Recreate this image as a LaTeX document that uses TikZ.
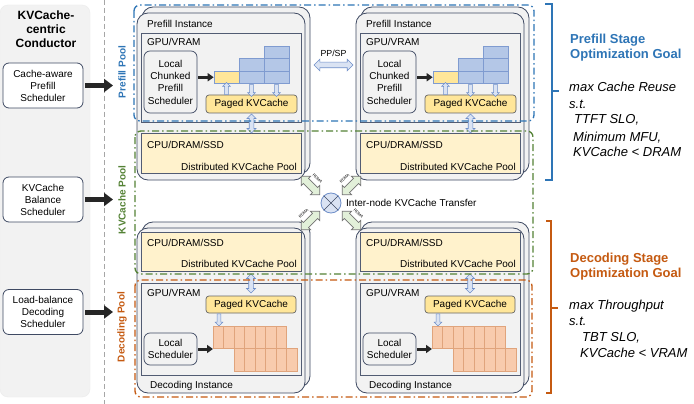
\documentclass[tikz,border=0pt]{standalone}
\usepackage{fontspec}
\setmainfont{Liberation Sans}
\usetikzlibrary{shapes.arrows,arrows.meta,calc}
\definecolor{pblue}{HTML}{2E75B6}
\definecolor{kgreen}{HTML}{548235}
\definecolor{dorange}{HTML}{C55A11}
\definecolor{navy}{HTML}{3F4A63}
\definecolor{lgray}{HTML}{F2F2F2}
\definecolor{lyellow}{HTML}{FFF2CC}
\definecolor{myellow}{HTML}{FFE699}
\definecolor{bblock}{HTML}{B4C7E7}
\definecolor{bblockd}{HTML}{7F9BD0}
\definecolor{oblock}{HTML}{F8CBAD}
\definecolor{oblockd}{HTML}{E0A47C}
\definecolor{larrow}{HTML}{DAE3F3}
\definecolor{larrowd}{HTML}{6F8FC9}
\definecolor{garrow}{HTML}{E2F0D9}
\definecolor{dark}{HTML}{262626}
\begin{document}
\begin{tikzpicture}[x=1pt,y=-1pt,
  every node/.style={inner sep=0pt},
  ftxt/.style={font=\fontsize{10}{12}\selectfont},
  inst/.style={draw=navy, fill=lgray, line width=0.8pt, rounded corners=11pt},
  memgpu/.style={draw=navy!90, fill=lgray, line width=0.7pt, minimum width=160pt},
  memcpu/.style={draw=navy!90, fill=lyellow, line width=0.7pt, minimum width=160pt},
  sched/.style={draw=navy, fill=white, line width=0.8pt, rounded corners=6pt, align=center, minimum width=80pt, minimum height=45pt, font=\fontsize{10}{12}\selectfont},
  lsched/.style={draw=navy, fill=lgray, line width=0.7pt, rounded corners=6pt, align=center, minimum width=53pt, font=\fontsize{10}{12.3}\selectfont},
  paged/.style={draw=gray!80!black, fill=myellow, line width=0.7pt, rounded corners=3pt, minimum height=18pt, font=\fontsize{10}{12}\selectfont},
  bblk/.style={draw=bblockd, fill=bblock, line width=0.6pt},
  yblk/.style={draw=bblockd, fill=myellow, line width=0.6pt},
  oblk/.style={draw=oblockd, fill=oblock, line width=0.5pt},
  sarr/.style={single arrow, draw=larrowd, fill=larrow, line width=0.5pt, inner sep=1.6pt, single arrow head extend=2pt, minimum height=12pt},
  varr/.style={double arrow, draw=larrowd, fill=larrow, line width=0.6pt, inner sep=2pt, double arrow head extend=2.2pt, minimum height=19pt},
  harr/.style={double arrow, draw=larrowd, fill=larrow, line width=0.6pt, inner sep=2.5pt, double arrow head extend=3pt, minimum height=39pt},
  rdma/.style={double arrow, draw=gray!90!black, fill=garrow, line width=0.7pt, inner sep=3.2pt, double arrow head extend=3pt, minimum height=26pt},
  rdmalbl/.style={font=\fontsize{4}{5}\selectfont},
  bigarr/.style={draw=dark, line width=5pt, -{Triangle[length=9pt,width=13pt]}},
  smarr/.style={draw=dark, line width=3pt, -{Triangle[length=6pt,width=8pt]}},
  pool/.style={line width=1.3pt, dash pattern=on 7pt off 3pt on 1.5pt off 3pt, rounded corners=6pt},
  poollbl/.style={rotate=90, font=\bfseries\fontsize{10}{12}\selectfont},
  goalhead/.style={anchor=base west, font=\bfseries\fontsize{13}{15}\selectfont},
  goaltxt/.style={anchor=base west, font=\itshape\fontsize{13}{15}\selectfont},
]
\useasboundingbox (0,0) rectangle (694,404);
\fill[white] (0,0) rectangle (694,404);

% left panel
\draw[fill=lgray, draw=gray!15, rounded corners=8pt] (0,5) rectangle (90,397);
\node[align=center, font=\bfseries\fontsize{12}{14}\selectfont] (title) at (46,29) {KVCache-\\centric\\Conductor};
\node[sched] (cs1) at (43,85.5) {Cache-aware\\Prefill\\Scheduler};
\node[sched] (cs2) at (43,199.5) {KVCache\\Balance\\Scheduler};
\node[sched] (cs3) at (43,312) {Load-balance\\Decoding\\Scheduler};
\draw[draw=gray!70, line width=0.8pt, dash pattern=on 5pt off 3pt] (104,0) -- (104,404);

% instances
\foreach \i/\dx in {1/0,2/219} {
\begin{scope}[xshift=\dx pt]
  % prefill instance
  \draw[inst] (142,7) rectangle (310,174);
  \draw[inst] (137,13) rectangle (305,180);
  \node[ftxt, anchor=base west] (pil\i) at (147,28) {Prefill Instance};
  \node[memgpu, minimum height=89pt] (pg\i) at (221,77.5) {};
  \node[ftxt, anchor=base west] (pgl\i) at (147,45.5) {GPU/VRAM};
  \node[lsched, minimum height=62pt] (pls\i) at (170.5,82) {Local\\Chunked\\Prefill\\Scheduler};
  \node[yblk, minimum width=25pt, minimum height=12.5pt] (py\i) at (226.5,77.25) {};
  \draw[bblk] (239,58.5) rectangle (264,71);
  \draw[bblk] (239,71) rectangle (264,83.5);
  \draw[bblk] (264,46) rectangle (289,58.5);
  \draw[bblk] (264,58.5) rectangle (289,71);
  \draw[bblk] (264,71) rectangle (289,83.5);
  \draw[smarr] ([xshift=1pt]pls\i.east |- py\i.west) -- (py\i.west);
  \node[paged, minimum width=91pt] (pp\i) at (251.5,104) {Paged KVCache};
  \node[sarr, rotate=90] (pa\i) at (226.5,89.5) {};
  \node[sarr, rotate=-90] (pb\i) at (251.5,89.5) {};
  \node[sarr, rotate=-90] (pc\i) at (276.5,89.5) {};
  \node[memcpu, minimum height=40pt] (pm\i) at (221,153) {};
  \node[varr, rotate=90] (pv\i) at (251.5,123.5) {};
  \node[ftxt, anchor=base west] (pcl\i) at (147,148) {CPU/DRAM/SSD};
  \node[ftxt, anchor=base east] (pdl\i) at (297,170) {Distributed KVCache Pool};
  % decoding instance
  \draw[inst] (142,222) rectangle (310,387);
  \draw[inst] (137,228) rectangle (305,393);
  \node[memcpu, minimum height=39pt] (dm\i) at (221,251.5) {};
  \node[ftxt, anchor=base west] (dcl\i) at (147,246) {CPU/DRAM/SSD};
  \node[ftxt, anchor=base east] (ddl\i) at (297,267) {Distributed KVCache Pool};
  \node[memgpu, minimum height=92pt] (dg\i) at (221,329) {};
  \node[ftxt, anchor=base west] (dgl\i) at (147,296) {GPU/VRAM};
  \node[varr, rotate=90] (dv\i) at (251,283.5) {};
  \node[paged, minimum width=90pt, minimum height=17pt] (dp\i) at (251,304.5) {Paged KVCache};
  \node[sarr, rotate=-90] (da\i) at (219,319) {};
  \foreach \k in {0,...,6} \draw[oblk] ({213+10.5*\k},326) rectangle ++(10.5,22);
  \foreach \k in {0,...,5} \draw[oblk] ({234+10.5*\k},348) rectangle ++(10.5,23);
  \coordinate (dt\i) at (213,349);
  \node[lsched, minimum height=32pt] (dls\i) at (170.5,349) {Local\\Scheduler};
  \draw[smarr] ([xshift=1pt]dls\i.east) -- (dt\i);
  \node[ftxt, anchor=base west] (dil\i) at (150,388) {Decoding Instance};
\end{scope}
}

% pools
\draw[pool, draw=pblue] (134,5) rectangle (534,121);
\draw[pool, draw=kgreen] (135,131) rectangle (533,274);
\draw[pool, draw=dorange] (135,280) rectangle (532,397);
\node[poollbl, text=pblue] (lp) at (122,72) {Prefill Pool};
\node[poollbl, text=kgreen] (lk) at (122,200) {KVCache Pool};
\node[poollbl, text=dorange] (ld) at (122,327) {Decoding Pool};

% scheduler arrows
\coordinate (e1) at (113,85.5);
\coordinate (e2) at (113,199.5);
\coordinate (e3) at (113,312);
\draw[bigarr] ([xshift=2pt]cs1.east) -- (e1);
\draw[bigarr] ([xshift=2pt]cs2.east) -- (e2);
\draw[bigarr] ([xshift=2pt]cs3.east) -- (e3);

% PP/SP
\node[harr] (ppsp) at (333.5,65) {};
\node[font=\fontsize{8.8}{10}\selectfont] (ppspl) at (333.5,53) {PP/SP};

% inter-node transfer
\node[circle, draw=larrowd, fill=larrow, minimum size=20pt, line width=0.8pt] (xc) at (331,203) {};
\draw[navy, line width=0.7pt] (xc.north west) -- (xc.south east) (xc.north east) -- (xc.south west);
\node[anchor=west, font=\fontsize{10}{12}\selectfont] (xt) at (346,203) {Inter-node KVCache Transfer};
\node[rdma, rotate=-45] (r1) at (310.5,185.5) {};
\node[rdma, rotate=45] (r2) at (351.5,185.5) {};
\node[rdma, rotate=45] (r3) at (310.5,220.5) {};
\node[rdma, rotate=-45] (r4) at (351.5,220.5) {};
\node[rdmalbl, rotate=-45] (rl1) at (317.5,178.5) {RDMA};
\node[rdmalbl, rotate=45] (rl2) at (344.5,178.5) {RDMA};
\node[rdmalbl, rotate=45] (rl3) at (303.5,213.5) {RDMA};
\node[rdmalbl, rotate=-45] (rl4) at (358.5,213.5) {RDMA};

% brackets
\draw[pblue, line width=1.2pt] (545,4) -- (552,4) -- (552,180) -- (545,180);
\draw[pblue, line width=1.2pt] (552,91) -- (559,91);
\draw[dorange, line width=1.2pt] (546,221) -- (551,221) -- (551,393) -- (546,393);
\draw[dorange, line width=1.2pt] (551,308) -- (558,308);

% goals
\node[goalhead, text=pblue] (g1) at (570,44) {Prefill Stage};
\node[goalhead, text=pblue] (g2) at (570,59) {Optimization Goal};
\node[goaltxt] (g3) at (569,92) {max Cache Reuse};
\node[goaltxt] (g4) at (569,108) {s.t.};
\node[goaltxt] (g5) at (574,124) {TTFT SLO,};
\node[goaltxt] (g6) at (573,141) {Minimum MFU,};
\node[goaltxt] (g7) at (573,157) {KVCache < DRAM};
\node[goalhead, text=dorange] (h1) at (570,262) {Decoding Stage};
\node[goalhead, text=dorange] (h2) at (570,277) {Optimization Goal};
\node[goaltxt] (h3) at (569,309) {max Throughput};
\node[goaltxt] (h4) at (569,325) {s.t.};
\node[goaltxt] (h5) at (582,341) {TBT SLO,};
\node[goaltxt] (h6) at (580,357) {KVCache < VRAM};
\end{tikzpicture}
\end{document}
